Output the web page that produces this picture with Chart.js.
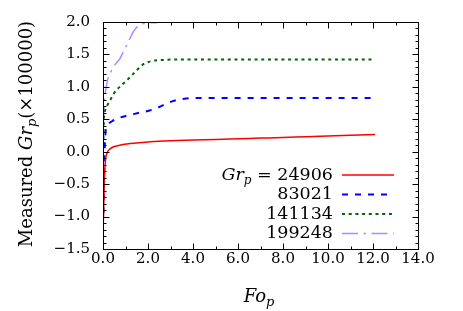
<!DOCTYPE html>
<html><head><meta charset="utf-8">
<script src="https://cdn.jsdelivr.net/npm/chart.js@4/dist/chart.umd.min.js"></script>
<style>html,body{margin:0;padding:0;background:#fff;}canvas{display:block}</style>
</head><body>
<canvas id="c" width="463" height="311"></canvas>
<script>
// ---- data ----
const seriesNames = ['24906', '83021', '141134', '199248'];
const xTicks = [0, 2, 4, 6, 8, 10, 12, 14];
const yTicks = [-1.5, -1.0, -0.5, 0.0, 0.5, 1.0, 1.5, 2.0];

const fo1 = [0.02,0.04,0.06,0.09,0.13,0.2,0.3,0.5,0.8,1.2,1.6,2.1,3,4,5,6,7,8,9,10,11,12.1];
const gr1 = [-1.05,-0.75,-0.45,-0.22,-0.08,0.0,0.04,0.08,0.105,0.125,0.14,0.155,0.17,0.18,0.19,0.2,0.21,0.22,0.232,0.243,0.254,0.265];

const fo2 = [0.02,0.04,0.07,0.1,0.15,0.25,0.4,0.7,1.0,1.3,1.6,1.9,2.2,2.5,2.8,3.1,3.4,3.7,4.0,4.5,5,6,7,8,9,10,11,12];
const gr2 = [-0.95,-0.5,0.0,0.25,0.37,0.43,0.47,0.52,0.55,0.575,0.6,0.62,0.65,0.69,0.74,0.78,0.805,0.82,0.825,0.83,0.83,0.83,0.83,0.83,0.83,0.83,0.83,0.83];

const fo3 = [0.02,0.04,0.07,0.1,0.2,0.3,0.45,0.6,0.8,1.0,1.2,1.4,1.6,1.8,2.0,2.2,2.4,2.7,3.0,3.5,4,5,6,7,8,9,10,11,12];
const gr3 = [0.2,0.5,0.6,0.64,0.72,0.78,0.88,0.95,1.02,1.08,1.15,1.22,1.29,1.35,1.38,1.40,1.41,1.415,1.42,1.42,1.42,1.42,1.42,1.42,1.42,1.42,1.42,1.42,1.42];

const fo4 = [0.02,0.05,0.09,0.16,0.24,0.35,0.46,0.6,0.76,0.9,1.05,1.2,1.35,1.5,1.65,1.8,2.0,2.2,2.4];
const gr4 = [0.45,0.7,0.88,1.03,1.15,1.23,1.31,1.37,1.44,1.54,1.64,1.75,1.85,1.92,1.96,1.975,1.985,1.99,1.99];

const xs = [fo1, fo2, fo3, fo4];
const ys = [gr1, gr2, gr3, gr4];
const colors = ['#ff0000', '#0000ff', '#006400', '#b388ff'];
const dashes = [[], [6, 7], [3, 3.7], [16, 5.5, 2.5, 5.5]];
const widths = [1.5, 2, 2, 1.5];

const fmt = v => Number(v).toFixed(1).replace('-', '\u2212');

const datasets = seriesNames.map((n, i) => ({
  label: n,
  data: xs[i].map((x, j) => ({ x: x, y: ys[i][j] })),
  borderColor: colors[i],
  borderWidth: widths[i],
  borderDash: dashes[i],
  pointRadius: 0,
  fill: false,
  cubicInterpolationMode: 'monotone'
}));

function drawRich(ctx, parts, x, y, align) {
  let total = 0;
  const ms = parts.map(p => {
    ctx.font = (p.italic ? 'italic ' : '') + p.size + 'px "DejaVu Serif"';
    const w = ctx.measureText(p.t).width;
    total += w;
    return w;
  });
  let cx = align === 'right' ? x - total : align === 'center' ? x - total / 2 : x;
  parts.forEach((p, i) => {
    ctx.font = (p.italic ? 'italic ' : '') + p.size + 'px "DejaVu Serif"';
    ctx.fillText(p.t, cx, y + (p.dy || 0));
    cx += ms[i];
  });
}

const decor = {
  id: 'decor',
  afterDraw(chart) {
    const ctx = chart.ctx;
    const a = chart.chartArea;
    const sx = chart.scales.x, sy = chart.scales.y;
    const L = Math.round(a.left) + 0.5, R = Math.round(a.right) + 0.5;
    const T = Math.round(a.top) + 0.5, B = Math.round(a.bottom) + 0.5;
    ctx.save();
    ctx.strokeStyle = '#000';
    ctx.lineWidth = 1;
    ctx.setLineDash([]);
    ctx.strokeRect(L, T, R - L, B - T);
    ctx.beginPath();
    for (let v = sx.min; v <= sx.max + 1e-9; v += 1) {
      const major = Math.abs(v % 2) < 1e-9;
      const len = major ? 6 : 3;
      const px = Math.round(sx.getPixelForValue(v)) + 0.5;
      ctx.moveTo(px, B); ctx.lineTo(px, B - len);
      ctx.moveTo(px, T); ctx.lineTo(px, T + len);
    }
    for (let k = 0; k <= 35; k++) {
      const v = sy.min + k * 0.1;
      const major = k % 5 === 0;
      const len = major ? 6 : 3;
      const py = Math.round(sy.getPixelForValue(v)) + 0.5;
      ctx.moveTo(L, py); ctx.lineTo(L + len, py);
      ctx.moveTo(R, py); ctx.lineTo(R - len, py);
    }
    ctx.stroke();

    // legend
    ctx.textBaseline = 'alphabetic';
    const rowY = [179.7, 199.2, 218.7, 238.2];
    seriesNames.forEach((n, i) => {
      const parts = i === 0
        ? [{t: 'Gr', italic: true, size: 17.5}, {t: 'p', italic: true, size: 12, dy: 4}, {t: ' = ' + n, size: 17.5}]
        : [{t: n, size: 17.5}];
      ctx.fillStyle = '#000';
      drawRich(ctx, parts, 333, rowY[i], 'right');
      ctx.beginPath();
      ctx.strokeStyle = colors[i];
      ctx.lineWidth = widths[i];
      ctx.setLineDash(dashes[i]);
      const ly = rowY[i] - 4.7;
      ctx.moveTo(342, ly); ctx.lineTo(394, ly);
      ctx.stroke();
    });
    ctx.setLineDash([]);

    // axis titles
    ctx.fillStyle = '#000';
    drawRich(ctx, [{t: 'Fo', italic: true, size: 18}, {t: 'p', italic: true, size: 13, dy: 4}], 259, 302, 'center');
    ctx.save();
    ctx.translate(32, 134);
    ctx.rotate(-Math.PI / 2);
    drawRich(ctx, [
      {t: 'Measured ', size: 18},
      {t: 'Gr', italic: true, size: 18},
      {t: 'p', italic: true, size: 13, dy: 4},
      {t: '(\u00d7100000)', size: 18}
    ], 0, 0, 'center');
    ctx.restore();
    ctx.restore();
  }
};

new Chart(document.getElementById('c'), {
  type: 'line',
  data: { datasets: datasets },
  options: {
    responsive: false,
    animation: false,
    devicePixelRatio: 1,
    layout: { padding: { left: 0, right: 45, top: 19, bottom: 0 } },
    plugins: { legend: { display: false }, tooltip: { enabled: false } },
    scales: {
      x: {
        type: 'linear', min: 0, max: 14,
        afterBuildTicks: s => { s.ticks = xTicks.map(v => ({ value: v })); },
        afterFit: s => { s.height = 62; },
        grid: { display: false, drawTicks: false },
        border: { display: false },
        ticks: { padding: 1, maxRotation: 0, autoSkip: false, color: '#000',
                 font: { family: 'DejaVu Serif', size: 15 }, callback: v => fmt(v) }
      },
      y: {
        type: 'linear', min: -1.5, max: 2.0,
        afterBuildTicks: s => { s.ticks = yTicks.map(v => ({ value: v })); },
        afterFit: s => { s.width = 103; },
        grid: { display: false, drawTicks: false },
        border: { display: false },
        ticks: { padding: 13, autoSkip: false, color: '#000',
                 font: { family: 'DejaVu Serif', size: 15 }, callback: v => fmt(v) }
      }
    }
  },
  plugins: [decor]
});
</script>
</body></html>
